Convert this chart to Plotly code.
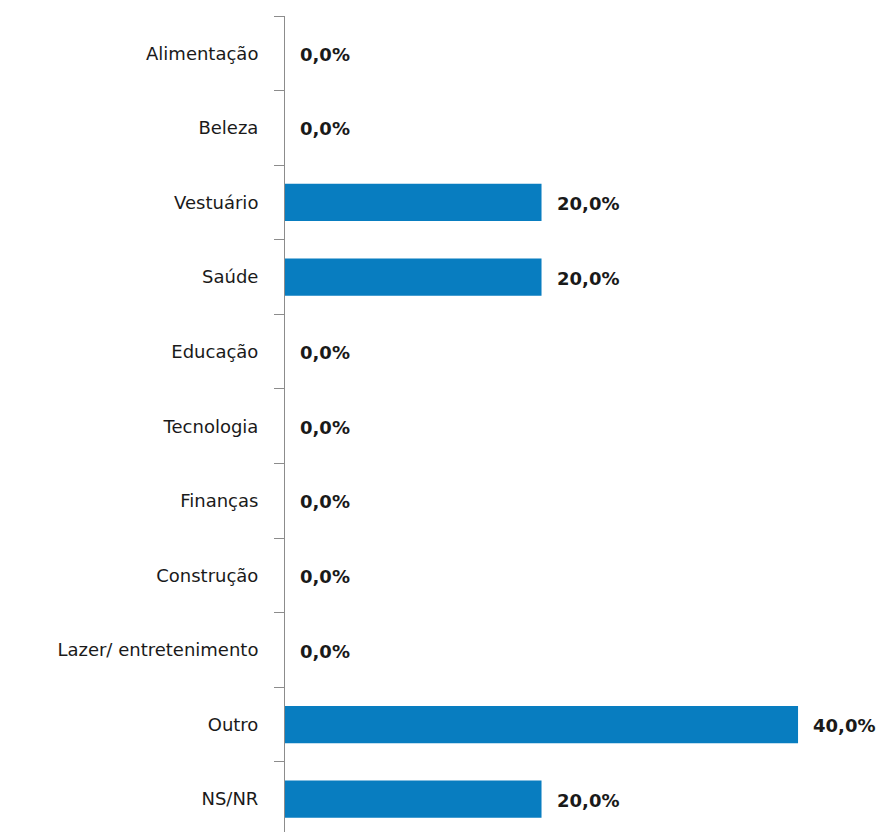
import plotly.graph_objects as go

categories = ["Alimentação", "Beleza", "Vestuário", "Saúde", "Educação", "Tecnologia",
              "Finanças", "Construção", "Lazer/ entretenimento", "Outro", "NS/NR"]
values = [0.0, 0.0, 20.0, 20.0, 0.0, 0.0, 0.0, 0.0, 0.0, 40.0, 20.0]
labels = [f"{v:.1f}%".replace(".", ",") for v in values]

BAR_COLOR = "#087DC0"
FONT = "DejaVu Sans"

fig = go.Figure()
fig.add_trace(go.Bar(
    x=values, y=categories, orientation="h",
    marker=dict(color=BAR_COLOR, line=dict(width=0)),
    width=0.5, hoverinfo="skip",
))
for c, v, t in zip(categories, values, labels):
    fig.add_annotation(x=v, y=c, text=f"<b>{t}</b>", showarrow=False,
                       xanchor="left", yanchor="middle", xshift=13, yshift=-1,
                       font=dict(family=FONT, size=18, color="#1a1a1a"))

fig.update_layout(
    width=885, height=832,
    margin=dict(l=285, r=0, t=16, b=0),
    paper_bgcolor="white", plot_bgcolor="white",
    showlegend=False,
    bargap=0.5,
    xaxis=dict(range=[0, 46.78], visible=False, fixedrange=True),
    yaxis=dict(type="category", categoryorder="array", categoryarray=categories,
               range=[10.44, -0.5], showline=True, linecolor="#8c8c8c", linewidth=1,
               ticks="outside", tickson="boundaries", ticklen=10, tickcolor="#8c8c8c",
               tickfont=dict(family=FONT, size=18, color="#1a1a1a"),
               ticklabelstandoff=22, showgrid=False, zeroline=False, fixedrange=True),
)
fig.write_html("out.html", config={"displayModeBar": False, "staticPlot": True},
               post_script="document.body.style.margin='0';document.body.style.overflow='hidden';")
